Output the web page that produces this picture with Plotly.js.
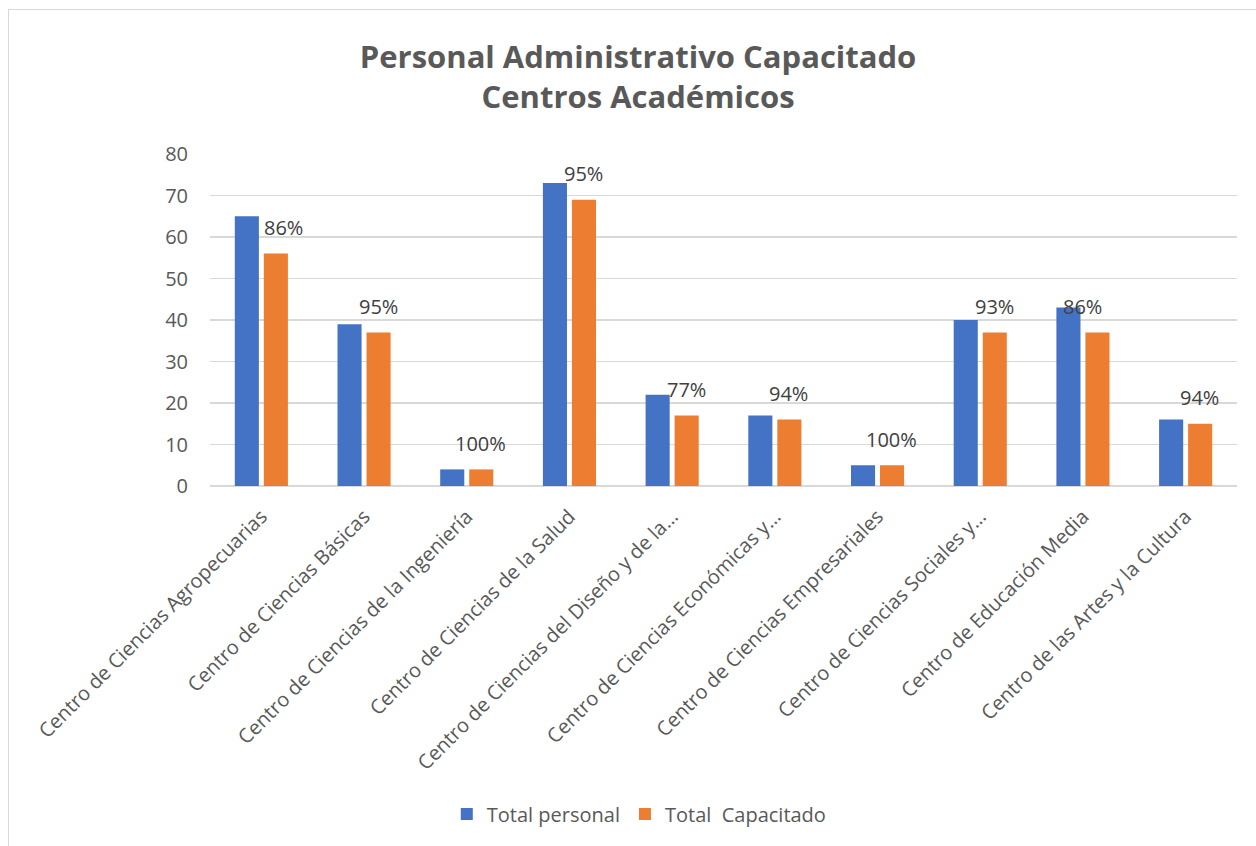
<!DOCTYPE html>
<html>
<head>
<meta charset="utf-8">
<script src="https://cdn.plot.ly/plotly-3.0.1.min.js"></script>
<style>
  html, body { margin: 0; padding: 0; background: #fff; overflow: hidden; }
  #chart { position: absolute; left: 0; top: 0; width: 1256px; height: 846px; }
  #frame { position: absolute; left: 8px; top: 9px; width: 1260px; height: 850px; border: 1px solid #d9d9d9; pointer-events: none; }
</style>
</head>
<body>
<div id="chart"></div>
<div id="frame"></div>
<script>
const categories = [
  "Centro de Ciencias Agropecuarias",
  "Centro de Ciencias Básicas",
  "Centro de Ciencias de la Ingeniería",
  "Centro de Ciencias de la Salud",
  "Centro de Ciencias del Diseño y de la…",
  "Centro de Ciencias Económicas y…",
  "Centro de Ciencias Empresariales",
  "Centro de Ciencias Sociales y…",
  "Centro de Educación Media",
  "Centro de las Artes y la Cultura"
];
const totalPersonal = [65, 39, 4, 73, 22, 17, 5, 40, 43, 16];
const totalCapacitado = [56, 37, 4, 69, 17, 16, 5, 37, 37, 15];
const pctLabels = ["86%", "95%", "100%", "95%", "77%", "94%", "100%", "93%", "86%", "94%"];

const font = "Open Sans, Noto Sans, Liberation Sans, sans-serif";
const grey = "#595959";

const traces = [
  { type: "bar", name: "Total personal", x: categories, y: totalPersonal,
    marker: { color: "#4472C4" }, hoverinfo: "x+y" },
  { type: "bar", name: "Total\u00A0\u00A0Capacitado", x: categories, y: totalCapacitado,
    marker: { color: "#ED7D31" }, hoverinfo: "x+y" }
];

// label nudges (pixels) relative to the orange bar top
const extraX = [8, 0, 0, 0, 0, 0, 0, 0, -14, 0];
const annotations = categories.map((c, i) => ({
  x: c, y: totalCapacitado[i], xref: "x", yref: "y",
  text: pctLabels[i], showarrow: false,
  xshift: 14 + extraX[i], yshift: 26,
  font: { family: font, size: 20, color: "#404040" }
}));

const layout = {
  width: 1256, height: 846,
  margin: { l: 210, r: 19, t: 154, b: 360 },
  paper_bgcolor: "#fff", plot_bgcolor: "#fff",
  title: {
    text: "<b>Personal Administrativo Capacitado<br>Centros Académicos</b>",
    x: 0.508, xanchor: "center", y: 0.9196, yanchor: "middle",
    font: { family: font, size: 31, color: grey }
  },
  barmode: "group", bargap: 0.435, bargroupgap: 0.17,
  xaxis: {
    type: "category", tickangle: -45, showgrid: false, showline: false,
    ticks: "", ticklabelstandoff: 14,
    tickfont: { family: font, size: 20, color: grey }
  },
  yaxis: {
    range: [0, 80], dtick: 10, showgrid: true, gridcolor: "#d9d9d9", gridwidth: 1.5,
    zeroline: true, zerolinecolor: "#d9d9d9", zerolinewidth: 1.5, showline: false,
    ticks: "", ticklabelstandoff: 21,
    tickfont: { family: font, size: 20, color: grey }
  },
  showlegend: true,
  legend: {
    orientation: "h", x: 0.418, xanchor: "center", y: -0.988, yanchor: "middle",
    font: { family: font, size: 20, color: grey }, itemwidth: 30, traceorder: "normal"
  },
  annotations: annotations
};

Plotly.newPlot("chart", traces, layout, { displayModeBar: false, staticPlot: true });
</script>
</body>
</html>
